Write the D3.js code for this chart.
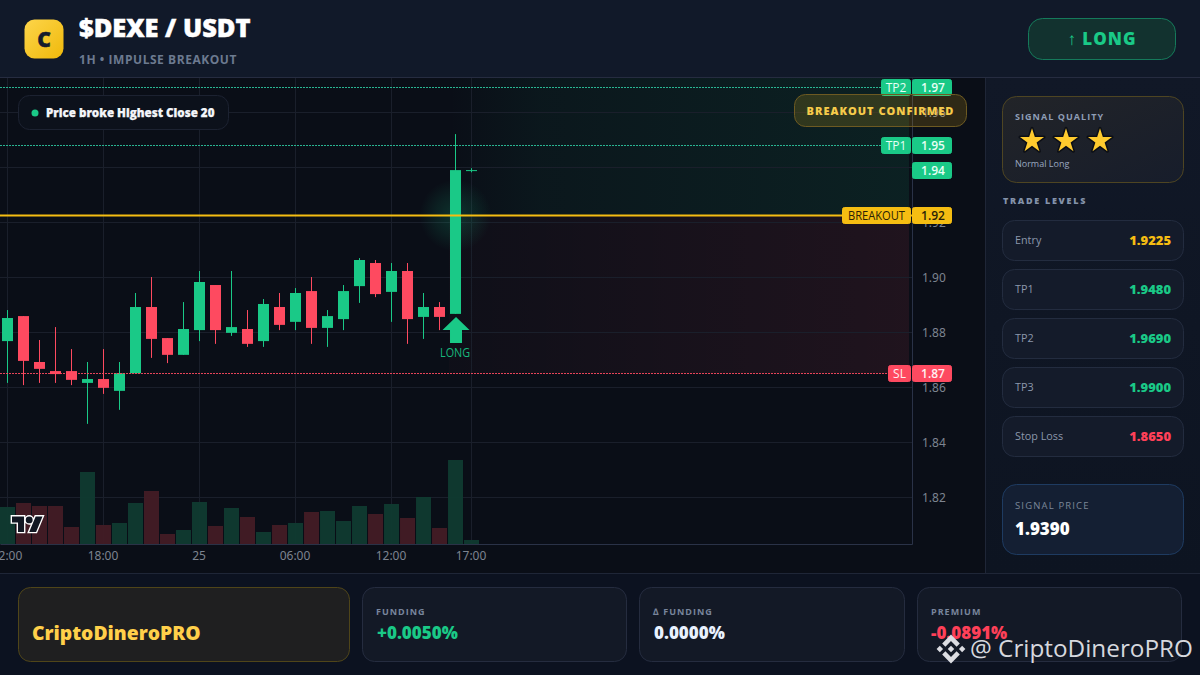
<!DOCTYPE html>
<html>
<head>
<meta charset="utf-8">
<title>$DEXE / USDT</title>
<script src="https://cdn.jsdelivr.net/npm/d3@7"></script>
<style>
html, body { margin: 0; padding: 0; background: #0c1220; overflow: hidden; }
svg { display: block; }
text { font-family: "Open Sans", "Noto Sans", sans-serif; }
.tick text { font-family: "Noto Sans", "Open Sans", sans-serif; }
</style>
</head>
<body>
<div id="chart"></div>
<script>
// candles, one per hour, starting at 12:00
var opens  = [1.8768, 1.8859, 1.8692, 1.8659, 1.8659, 1.8616, 1.8630, 1.8587, 1.8651, 1.8892, 1.8779, 1.8718, 1.8808, 1.8972, 1.8798, 1.8812, 1.8768, 1.8892, 1.8838, 1.8950, 1.8816, 1.8848, 1.8968, 1.9052, 1.8947, 1.9023, 1.8856, 1.8892, 1.8867, 1.9390];
var closes = [1.8852, 1.8696, 1.8667, 1.8648, 1.8627, 1.8630, 1.8598, 1.8651, 1.8892, 1.8776, 1.8718, 1.8812, 1.8983, 1.8808, 1.8819, 1.8758, 1.8903, 1.8827, 1.8943, 1.8816, 1.8859, 1.8950, 1.9063, 1.8939, 1.9023, 1.8848, 1.8892, 1.8856, 1.9390, 1.9390];
var highs  = [1.8881, 1.8859, 1.8772, 1.8819, 1.8739, 1.8692, 1.8739, 1.8692, 1.8943, 1.9001, 1.8779, 1.8910, 1.9023, 1.8972, 1.9023, 1.8881, 1.8921, 1.8943, 1.8961, 1.9001, 1.8881, 1.8972, 1.9070, 1.9063, 1.9052, 1.9052, 1.8943, 1.8910, 1.9521, 1.9397];
var lows   = [1.8616, 1.8608, 1.8616, 1.8616, 1.8608, 1.8467, 1.8576, 1.8518, 1.8651, 1.8707, 1.8688, 1.8718, 1.8768, 1.8758, 1.8787, 1.8747, 1.8747, 1.8808, 1.8808, 1.8758, 1.8747, 1.8808, 1.8907, 1.8928, 1.8838, 1.8758, 1.8776, 1.8808, 1.8867, 1.9382];
var volumes = [37, 41, 38, 38, 17, 72, 19, 21, 41, 53, 10, 14, 42, 18, 36, 27, 12, 19, 21, 32, 33, 23, 38, 30, 40, 26, 47, 16, 84, 4];

// axes
var priceTicks = [1.82, 1.84, 1.86, 1.88, 1.90, 1.92, 1.94, 1.96];
var timeTicks = [0, 6, 12, 18, 24, 29];
var timeLabels = ["12:00", "18:00", "25", "06:00", "12:00", "17:00"];

// side panel
var levelNames = ["Entry", "TP1", "TP2", "TP3", "Stop Loss"];
var levelValues = [1.9225, 1.9480, 1.9690, 1.9900, 1.8650];

// footer
var statNames = ["FUNDING", "∆ FUNDING", "PREMIUM"];
var statValues = ["+0.0050%", "0.0000%", "-0.0891%"];

var green = "#1ac987", red = "#fe4a60", gold = "#f5bd12";

var svg = d3.select("#chart").append("svg")
    .attr("width", 1200)
    .attr("height", 675);

var defs = svg.append("defs");

function gradient(id, x2, y2, stops) {
    var g = defs.append("linearGradient").attr("id", id)
        .attr("x1", 0).attr("y1", 0).attr("x2", x2).attr("y2", y2);
    stops.forEach(function (s) {
        g.append("stop").attr("offset", s[0]).attr("stop-color", s[1]).attr("stop-opacity", s[2]);
    });
}
gradient("logoFill", 1, 1, [[0, "#fdd54a", 1], [1, "#f0b90b", 1]]);
gradient("zoneUp", 1, 0, [[0, green, 0], [0.2, green, 0.05], [1, green, 0.1]]);
gradient("zoneDown", 1, 0, [[0, red, 0.02], [1, red, 0.09]]);
gradient("sideFill", 0, 1, [[0, "#111827", 1], [1, "#0d1421", 1]]);
gradient("qualityFill", 1, 1, [[0, "#222428", 1], [1, "#171d2b", 1]]);

var glow = defs.append("radialGradient").attr("id", "glow");
glow.append("stop").attr("offset", 0).attr("stop-color", green).attr("stop-opacity", 0.2);
glow.append("stop").attr("offset", 0.55).attr("stop-color", green).attr("stop-opacity", 0.1);
glow.append("stop").attr("offset", 1).attr("stop-color", green).attr("stop-opacity", 0);

function box(x, y, w, h, r, fill, stroke) {
    return svg.append("rect")
        .attr("x", x + 0.5).attr("y", y + 0.5)
        .attr("width", w - 1).attr("height", h - 1)
        .attr("rx", r)
        .attr("fill", fill)
        .attr("stroke", stroke);
}

function label(x, y, str, size, weight, color, spacing, anchor) {
    return svg.append("text")
        .attr("x", x).attr("y", y)
        .attr("font-size", size)
        .attr("font-weight", weight)
        .attr("fill", color)
        .attr("letter-spacing", spacing || 0)
        .attr("text-anchor", anchor || "start")
        .text(str);
}

// backgrounds
svg.append("rect").attr("width", 1200).attr("height", 675).attr("fill", "#0c1220");
svg.append("rect").attr("width", 1200).attr("height", 77).attr("fill", "#111929");
svg.append("rect").attr("y", 78).attr("width", 985).attr("height", 495).attr("fill", "#0a0e17");
svg.append("rect").attr("x", 985).attr("y", 78).attr("width", 215).attr("height", 495).attr("fill", "url(#sideFill)");
svg.append("rect").attr("y", 77).attr("width", 1200).attr("height", 1).attr("fill", "#262c40");
svg.append("rect").attr("y", 573).attr("width", 1200).attr("height", 1).attr("fill", "#1f2637");
svg.append("rect").attr("x", 985).attr("y", 78).attr("width", 1).attr("height", 495).attr("fill", "#1f2637");

// scales
var x = d3.scaleLinear().domain([-7.5 / 16, 56.53]).range([0, 912]);
var y = d3.scaleLinear().domain([1.9725, 1.8030]).range([78, 544]);
var v = d3.scaleLinear().domain([0, 100]).range([544, 444]);

var chart = svg.append("g");

// trade zones
chart.append("rect").attr("x", 449).attr("width", 460)
    .attr("y", y(1.9725)).attr("height", y(1.9225) - y(1.9725))
    .attr("fill", "url(#zoneUp)");
chart.append("rect").attr("x", 449).attr("width", 460)
    .attr("y", y(1.9225)).attr("height", y(1.865) - y(1.9225))
    .attr("fill", "url(#zoneDown)");

// grid
chart.selectAll(".gridY").data(priceTicks).enter().append("line")
    .attr("x1", 0).attr("x2", 912)
    .attr("y1", function (d) { return Math.floor(y(d)) + 0.5; })
    .attr("y2", function (d) { return Math.floor(y(d)) + 0.5; })
    .attr("stroke", "#1a1f2b");
chart.selectAll(".gridX").data(timeTicks).enter().append("line")
    .attr("y1", 78).attr("y2", 544)
    .attr("x1", function (d) { return Math.floor(x(d)) + 0.5; })
    .attr("x2", function (d) { return Math.floor(x(d)) + 0.5; })
    .attr("stroke", "#1a1f2b");

// volume
chart.selectAll(".vol").data(volumes).enter().append("rect")
    .attr("x", function (d, i) { return x(i) - 7.5; })
    .attr("width", 15)
    .attr("y", function (d) { return v(d); })
    .attr("height", function (d) { return v(0) - v(d); })
    .attr("fill", function (d, i) { return closes[i] >= opens[i] ? "#0f3a31" : "#421c25"; })
    .attr("fill-opacity", 0.97);

// glow at the breakout
chart.append("circle")
    .attr("cx", x(28)).attr("cy", y(1.9225)).attr("r", 36)
    .attr("fill", "url(#glow)");

// candles
var candle = chart.selectAll(".candle").data(opens).enter().append("g");
candle.append("rect")
    .attr("x", function (d, i) { return Math.floor(x(i)); })
    .attr("width", 1)
    .attr("y", function (d, i) { return y(highs[i]); })
    .attr("height", function (d, i) { return y(lows[i]) - y(highs[i]); })
    .attr("fill", function (d, i) { return closes[i] >= opens[i] ? green : red; });
candle.append("rect")
    .attr("x", function (d, i) { return Math.floor(x(i)) - 5; })
    .attr("width", 11)
    .attr("y", function (d, i) { return y(Math.max(opens[i], closes[i])); })
    .attr("height", function (d, i) { return Math.max(1, Math.abs(y(opens[i]) - y(closes[i]))); })
    .attr("fill", function (d, i) { return closes[i] >= opens[i] ? green : red; });

// level lines
var lineLevels = [levelValues[2], levelValues[1], levelValues[4]];
var lineColors = ["#2cc7a0", "#2cc7a0", red];
chart.selectAll(".level").data(lineLevels).enter().append("line")
    .attr("x1", 0).attr("x2", 912)
    .attr("y1", function (d) { return Math.floor(y(d)) + 0.5; })
    .attr("y2", function (d) { return Math.floor(y(d)) + 0.5; })
    .attr("stroke", function (d, i) { return lineColors[i]; })
    .attr("stroke-opacity", 0.9)
    .attr("stroke-dasharray", "2 1");
chart.append("line")
    .attr("x1", 0).attr("x2", 912)
    .attr("y1", y(levelValues[0])).attr("y2", y(levelValues[0]))
    .attr("stroke", gold).attr("stroke-width", 2);

// arrow under the breakout candle
var ax = x(28) + 0.5, ay = y(opens[28]) + 3;
chart.append("path")
    .attr("d", d3.line()([[ax, ay], [ax + 13.5, ay + 13], [ax + 6, ay + 13], [ax + 6, ay + 26], [ax - 6, ay + 26], [ax - 6, ay + 13], [ax - 13.5, ay + 13]]) + "Z")
    .attr("fill", green);
label(ax - 1, ay + 40, "LONG", 12, 400, "#17b87c", 0, "middle")
    .attr("textLength", 30).attr("lengthAdjust", "spacingAndGlyphs");

// axes
var yAxis = d3.axisRight(y).tickValues(priceTicks).tickFormat(d3.format(".2f")).tickSize(0).tickPadding(10);
var gy = svg.append("g").attr("transform", "translate(912,0)").call(yAxis);
gy.select(".domain").attr("stroke", "#2a3247");
gy.selectAll("text").attr("fill", "#7d8490").attr("font-size", 12);

var xAxis = d3.axisBottom(x).tickValues(timeTicks)
    .tickFormat(function (d, i) { return timeLabels[i]; })
    .tickSize(0).tickPadding(7);
var gx = svg.append("g").attr("transform", "translate(-1,544)").call(xAxis);
gx.select(".domain").attr("transform", "translate(1,0)").attr("stroke", "#2a3247");
gx.selectAll("text").attr("fill", "#7d8490").attr("font-size", 12);

// price tags on the axis
function tag(p, name, w, fill, color, nameWidth) {
    var cy = Math.floor(y(p));
    if (name) {
        box(911 - w, cy - 8, w, 17, 2, fill, fill);
        var t = label(911 - w / 2, cy + 5, name, 12, 400, color, 0, "middle");
        if (nameWidth) t.attr("textLength", nameWidth).attr("lengthAdjust", "spacingAndGlyphs");
    }
    box(912, cy - 8, 40, 17, 2, fill, fill);
    label(933, cy + 5, (Math.round(p * 100) / 100).toFixed(2), 12, 600, color, 0, "middle");
}
tag(levelValues[2], "TP2", 30, green, "#e6fff5");
tag(levelValues[1], "TP1", 30, green, "#e6fff5");
tag(closes[28], "", 0, green, "#e6fff5");
tag(levelValues[0], "BREAKOUT", 69, gold, "#2a2106", 57);
tag(levelValues[4], "SL", 23, red, "#fff0f2");

// TradingView mark
svg.append("path")
    .attr("transform", "translate(12,513) scale(0.86)")
    .attr("d", "M14 22H7V11H0V4h14v18zM28 22h-8l7.5-18h8L28 22z M24 8a4 4 0 1 1-8 0a4 4 0 0 1 8 0z")
    .attr("fill", "#111722").attr("stroke", "#fff").attr("stroke-width", 3.2)
    .attr("paint-order", "stroke");

// notes over the chart
box(18, 95, 211, 35, 11, "#0c111b", "#1c2231");
svg.append("circle").attr("cx", 35).attr("cy", 113).attr("r", 3.5).attr("fill", green);
label(46, 117, "Price broke Highest Close 20", 11.6, 800, "#f4f6fa")
    .attr("stroke", "#f4f6fa").attr("stroke-width", 0.25);

box(794, 94, 173, 33, 11, "rgba(245,189,18,0.16)", "#6d5a22");
label(880.5, 115, "BREAKOUT CONFIRMED", 11, 800, "#f6cb4a", 1, "middle");

// header
box(24, 19, 40, 40, 10, "url(#logoFill)", "none");
label(44, 47, "C", 21, 800, "#161c2c", 0, "middle").attr("stroke", "#161c2c").attr("stroke-width", 0.5);
label(79, 37, "$DEXE / USDT", 25.4, 800, "#ffffff").attr("stroke", "#fff").attr("stroke-width", 0.5);
label(79, 64, "1H • IMPULSE BREAKOUT", 12, 700, "#6c7a90", 0.55);

box(1028, 18, 148, 42, 14, "#12322f", "#157a5b");
label(1102, 45, "↑ LONG", 17, 800, green, 1, "middle");

// side panel
box(1002, 96, 182, 87, 14, "url(#qualityFill)", "#4e4522");
label(1015, 120, "SIGNAL QUALITY", 9, 700, "#8e9db6", 1.05);
var star = d3.symbol().type(d3.symbolStar).size(180);
svg.selectAll(".star").data([1032, 1066, 1100]).enter().append("path")
    .attr("d", star)
    .attr("transform", function (d) { return "translate(" + d + ",141)"; })
    .attr("fill", "#ffcb2e")
    .attr("stroke", "#0c0f16").attr("stroke-width", 3)
    .attr("stroke-linejoin", "round")
    .attr("paint-order", "stroke");
label(1015, 167, "Normal Long", 9, 400, "#9aa8c0");
label(1003, 204, "TRADE LEVELS", 9, 800, "#8493aa", 1.7);

var levelColors = ["#f5bd12", green, green, green, "#ff4058"];
levelNames.forEach(function (name, i) {
    var top = 220 + i * 49;
    box(1002, top, 182, 41, 12, "#141b2a", "#232c3f");
    label(1015, top + 24, name, 10.8, 400, "#8b97ab");
    label(1171, top + 25, levelValues[i].toFixed(4), 13, 800, levelColors[i], 0, "end");
});

box(1002, 484, 182, 71, 14, "#141f33", "#1e3b61");
label(1015, 509, "SIGNAL PRICE", 9.5, 400, "#7b8799", 1.15);
label(1015, 535, closes[28].toFixed(4), 17, 800, "#ffffff");

// footer
box(18, 587, 332, 75, 12, "#1f1f20", "#4f4519");
label(32, 640, "CriptoDineroPRO", 19.3, 800, "#ffd04a");

var statX = [362, 639, 917];
var statW = [265, 266, 265];
var statPad = [15, 15, 14];
var statColors = [green, "#e8f1ff", "#ff4058"];
statNames.forEach(function (name, i) {
    box(statX[i], 587, statW[i], 75, 12, "#131926", "#252c3f");
    label(statX[i] + 14, 615, name, 9, 700, "#78859c", 1);
    label(statX[i] + statPad[i], 639, statValues[i], 17, 800, statColors[i]);
});

// watermark
var wm = svg.append("g").attr("fill", "#dcdde2").attr("transform", "translate(951,649) scale(0.9) translate(-16,-16)");
wm.append("path").attr("d", "M16 0L25.8 9.8L22.2 13.4L16 7.2L9.8 13.4L6.2 9.8Z");
wm.append("path").attr("d", "M16 32L25.8 22.2L22.2 18.6L16 24.8L9.8 18.6L6.2 22.2Z");
wm.append("path").attr("d", "M0 16L3.6 12.4L7.2 16L3.6 19.6Z");
wm.append("path").attr("d", "M32 16L28.4 12.4L24.8 16L28.4 19.6Z");
wm.append("path").attr("d", "M16 12.4L19.6 16L16 19.6L12.4 16Z");
label(970, 657, "@ CriptoDineroPRO", 24.3, 400, "#d6d8de");
</script>
</body>
</html>
